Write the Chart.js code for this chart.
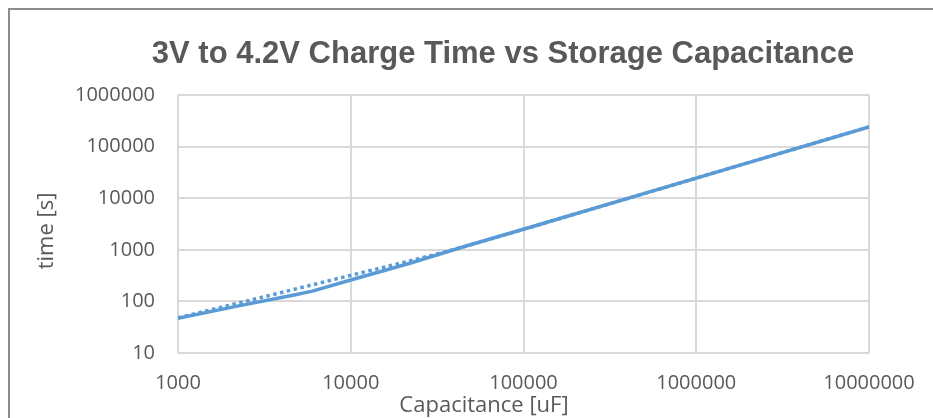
<!DOCTYPE html>
<html>
<head>
<meta charset="utf-8">
<script src="https://cdn.jsdelivr.net/npm/chart.js@4/dist/chart.umd.min.js"></script>
<style>
  html, body { margin: 0; padding: 0; background: #ffffff; }
  #wrap { width: 933px; height: 418px; position: relative; }
</style>
</head>
<body>
<div id="wrap"><canvas id="c" width="933" height="418"></canvas></div>
<script>
// ---- data ----
const capacitance = [1000, 2200, 4700, 6000, 10000, 22000, 47000, 100000, 1000000, 10000000];
const chargeTime  = [47, 81, 133, 158, 260, 550, 1200, 2500, 24500, 240000];
const trendCap    = [1000, 3000, 10000, 30000, 50000, 100000, 1000000, 10000000];
const trendTime   = [48, 118, 320, 790, 1260, 2500, 24500, 240000];
const xTickValues = [1000, 10000, 100000, 1000000, 10000000];
const yTickValues = [10, 100, 1000, 10000, 100000, 1000000];
const titleText = '3V to 4.2V Charge Time vs Storage Capacitance';
const xTitleText = 'Capacitance [uF]';
const yTitleText = 'time [s]';

const toPoints = (xs, ys) => xs.map((x, i) => ({ x: x, y: ys[i] }));

const frameAndTitles = {
  id: 'frameAndTitles',
  beforeDraw(chart) {
    const ctx = chart.ctx;
    ctx.save();
    ctx.fillStyle = '#ffffff';
    ctx.fillRect(0, 0, chart.width, chart.height);
    ctx.strokeStyle = '#8c8c8c';
    ctx.lineWidth = 2;
    ctx.beginPath();
    ctx.moveTo(9, chart.height);
    ctx.lineTo(9, 9);
    ctx.lineTo(chart.width, 9);
    ctx.stroke();
    ctx.restore();
  },
  afterDraw(chart) {
    const ctx = chart.ctx;
    ctx.save();
    ctx.fillStyle = '#595959';
    ctx.textAlign = 'center';
    ctx.textBaseline = 'alphabetic';
    // chart title
    ctx.font = 'bold 31px "Liberation Sans", Arial, sans-serif';
    ctx.fillText(titleText, 503, 63);
    // x axis title
    ctx.font = '22px "Open Sans"';
    ctx.fillText(xTitleText, 484, 412);
    // y axis title
    ctx.translate(53, 231);
    ctx.rotate(-Math.PI / 2);
    ctx.textBaseline = 'alphabetic';
    ctx.fillText(yTitleText, 0, 0);
    ctx.restore();
  }
};

new Chart(document.getElementById('c'), {
  type: 'scatter',
  data: {
    datasets: [
      {
        label: 'Charge time',
        data: toPoints(capacitance, chargeTime),
        showLine: true,
        borderColor: '#5b9bd5',
        borderWidth: 3.5,
        pointRadius: 0,
        tension: 0,
        fill: false
      },
      {
        label: 'Trend',
        data: toPoints(trendCap, trendTime),
        showLine: true,
        borderColor: '#5b9bd5',
        borderWidth: 3.5,
        borderDash: [3.5, 3.5],
        pointRadius: 0,
        tension: 0,
        fill: false
      }
    ]
  },
  plugins: [frameAndTitles],
  options: {
    responsive: false,
    animation: false,
    devicePixelRatio: 1,
    layout: { padding: { top: 95, right: 64, bottom: 0, left: 0 } },
    plugins: {
      legend: { display: false },
      tooltip: { enabled: false },
      title: { display: false }
    },
    scales: {
      x: {
        type: 'logarithmic',
        min: 1000,
        max: 10000000,
        afterBuildTicks: (s) => { s.ticks = xTickValues.map(v => ({ value: v })); },
        afterFit: (s) => { s.height = 65; },
        ticks: {
          autoSkip: false,
          maxRotation: 0,
          padding: 18,
          color: '#595959',
          font: { family: '"Open Sans", sans-serif', size: 20 },
          callback: (v) => String(v)
        },
        grid: { color: '#d9d9d9', lineWidth: 2, drawTicks: false },
        border: { display: false },
        title: { display: false }
      },
      y: {
        type: 'logarithmic',
        min: 10,
        max: 1000000,
        afterBuildTicks: (s) => { s.ticks = yTickValues.map(v => ({ value: v })); },
        afterFit: (s) => { s.width = 178; },
        ticks: {
          autoSkip: false,
          padding: 23,
          color: '#595959',
          font: { family: '"Open Sans", sans-serif', size: 20 },
          callback: (v) => String(v)
        },
        grid: { color: '#d9d9d9', lineWidth: 2, drawTicks: false },
        border: { display: false },
        title: { display: false }
      }
    }
  }
});
</script>
</body>
</html>
